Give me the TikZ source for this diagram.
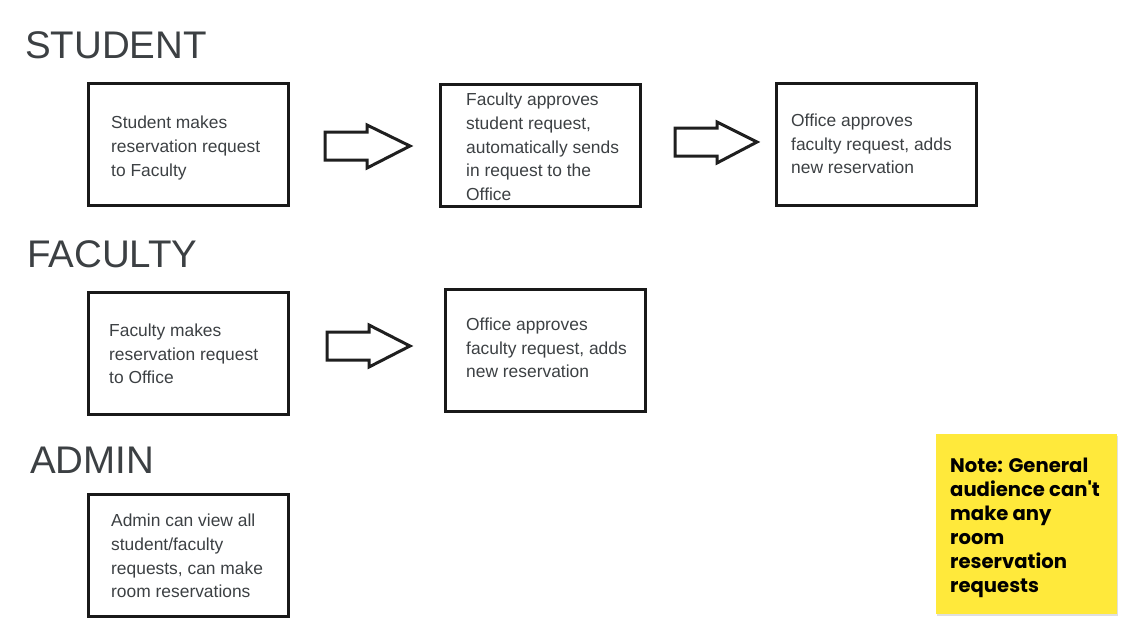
\documentclass[tikz,border=0pt]{standalone}
\usepackage{fontspec}
\setmainfont{Liberation Sans}
\newfontfamily\notefont{Poppins}
\usetikzlibrary{shadows}
\definecolor{txt}{HTML}{3C4043}
\definecolor{notey}{HTML}{FFE93B}
\tikzset{
  stepbox/.style={draw=black!90, line width=3pt, minimum width=200pt, minimum height=122pt, anchor=north west, inner sep=0pt},
  boxtext/.style={anchor=west, inner sep=0pt, align=left, text=txt, font=\fontsize{17.4}{23.7}\selectfont},
  heading/.style={anchor=west, inner sep=0pt, text=txt, font=\fontsize{38.5}{38.5}\selectfont},
  blockarrow/.style={draw=black!88, line width=3pt, line join=miter, fill=white},
  notebox/.style={fill=notey, minimum width=181pt, minimum height=180pt, anchor=north west, inner sep=0pt,
     drop shadow={opacity=0.25, shadow xshift=1pt, shadow yshift=-2pt}},
  notetext/.style={anchor=west, inner sep=0pt, align=left, font=\notefont\bfseries\fontsize{19.6}{24}\selectfont, text=black}
}
\begin{document}
\begin{tikzpicture}[x=1pt,y=-1pt]
\useasboundingbox (0,0) rectangle (1137,638);
% headings
\node[heading] (hstudent) at (25,45) {STUDENT};
\node[heading] (hfaculty) at (27,254) {FACULTY};
\node[heading] (hadmin) at (30,460) {ADMIN};
% boxes
\node[stepbox] (b1) at (87,82) {};
\node[stepbox] (b2) at (439,83) {};
\node[stepbox] (b3) at (775,82) {};
\node[stepbox] (b4) at (87,291) {};
\node[stepbox] (b5) at (444,288) {};
\node[stepbox] (b6) at (87,493) {};
% texts
\node[boxtext] (t1) at (111,148) {Student makes\\reservation request\\to Faculty};
\node[boxtext] (t2) at (466,147) {Faculty approves\\student request,\\automatically sends\\in request to the\\Office};
\node[boxtext] (t3) at (791,144) {Office approves\\faculty request, adds\\new reservation};
\node[boxtext] (t4) at (109,354) {Faculty makes\\reservation request\\to Office};
\node[boxtext] (t5) at (466,348) {Office approves\\faculty request, adds\\new reservation};
\node[boxtext] (t6) at (111,556) {Admin can view all\\student/faculty\\requests, can make\\room reservations};
% block arrows
\draw[blockarrow] (325,132) -- (367,132) -- (367,125) -- (410,146) -- (367,168) -- (367,160) -- (325,160) -- cycle;
\draw[blockarrow] (675,128) -- (717,128) -- (717,122) -- (757,142) -- (717,163) -- (717,156) -- (675,156) -- cycle;
\draw[blockarrow] (327,332) -- (369,332) -- (369,325) -- (410,346) -- (369,367) -- (369,360) -- (327,360) -- cycle;
% note
\node[notebox] (note) at (936,434) {};
\node[notetext] (notet) at (950,528) {Note: General\\audience can't\\make any\\room\\reservation\\requests};
\end{tikzpicture}
\end{document}
